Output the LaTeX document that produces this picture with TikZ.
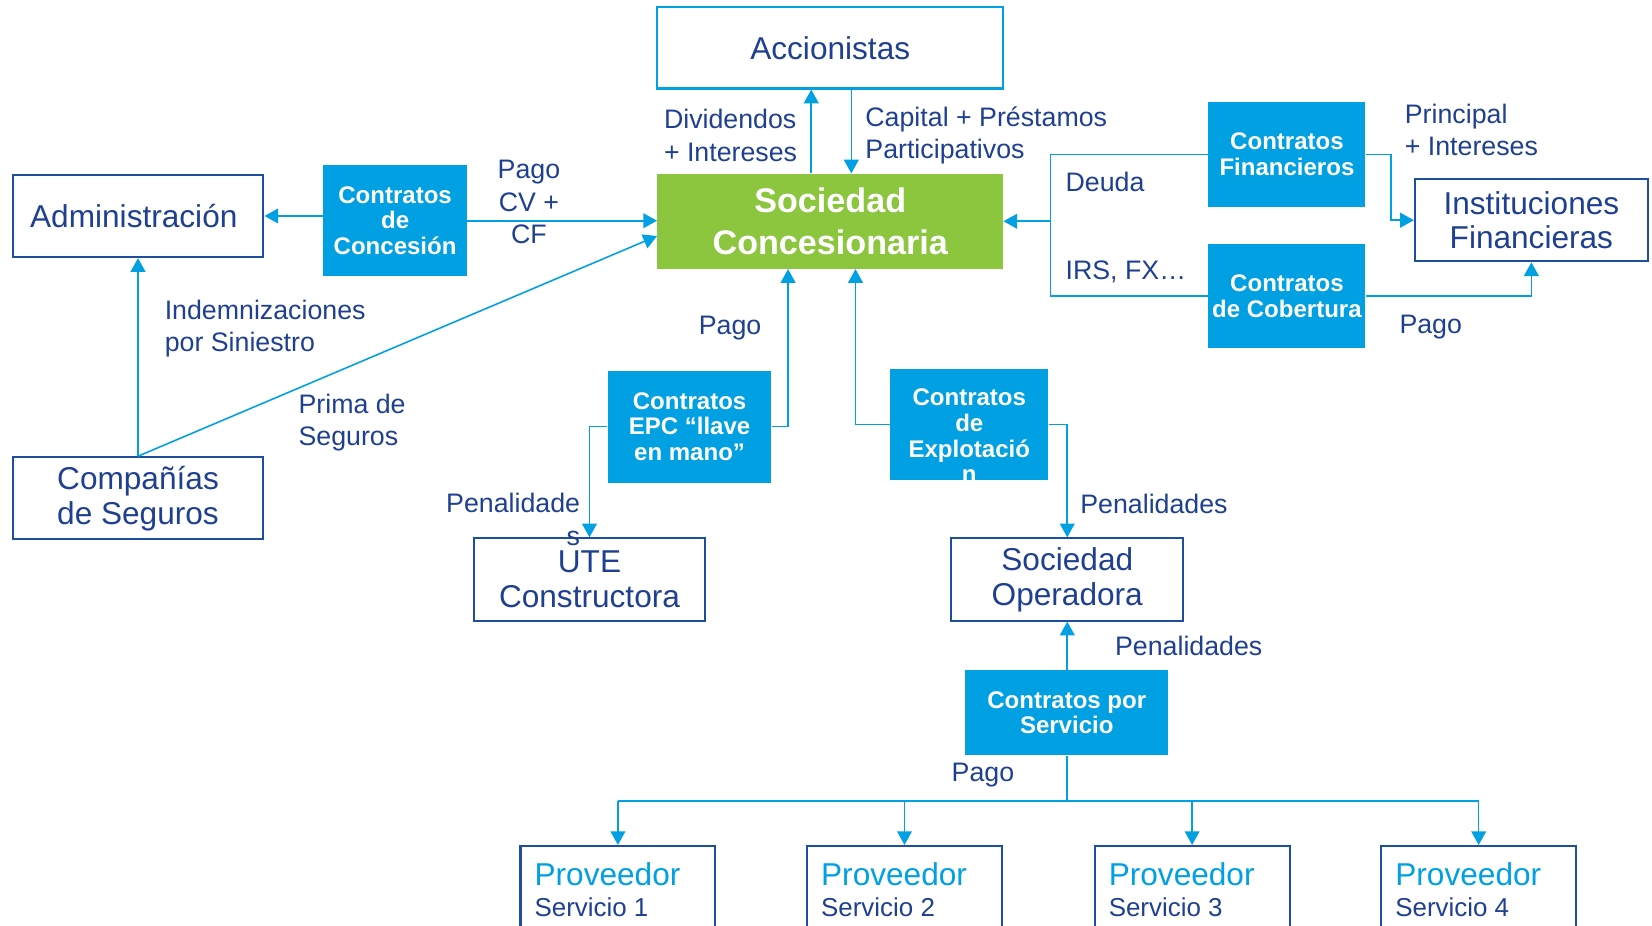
\documentclass[tikz,border=0pt]{standalone}
\usepackage{fontspec}
\setmainfont{Liberation Sans}
\usetikzlibrary{arrows.meta}

\definecolor{cyanblue}{RGB}{0,160,227}
\definecolor{boxblue}{RGB}{30,78,158}
\definecolor{textblue}{RGB}{31,64,145}
\definecolor{socgreen}{RGB}{139,198,62}

\begin{document}
\begin{tikzpicture}[
    x=0.5pt, y=-0.5pt,
    box/.style={rectangle, draw=boxblue, line width=1pt, text=textblue, align=center, inner sep=0pt, font=\fontsize{15}{16.5}\selectfont},
    contracttxt/.style={text=white, align=center, inner sep=0pt, font=\fontsize{11.4}{12.3}\selectfont\bfseries},
    contract/.style={contracttxt, rectangle, fill=cyanblue},
    lbl/.style={text=textblue, align=left, inner sep=0pt, font=\fontsize{12.7}{15.4}\selectfont},
    provbox/.style={rectangle, draw=boxblue, line width=1pt, anchor=north west, minimum width=92.5pt, minimum height=60pt},
    provtxt/.style={anchor=north west, align=left, inner sep=0pt, text=textblue, font=\fontsize{15}{15}\selectfont},
    arrow/.style={-{Triangle[length=6.5pt, width=7pt]}, draw=cyanblue, line width=0.75pt},
    link/.style={draw=cyanblue, line width=0.75pt},
]
\useasboundingbox (0,0) rectangle (1568,878);
\clip (0,0) rectangle (1568,878);

%% NODES
    % centre
    \node[rectangle, fill=socgreen, text=white, align=center, inner sep=0pt, minimum width=164pt, minimum height=45pt, font=\fontsize{16.2}{20}\selectfont\bfseries] (soc) at (788,210) {Sociedad\\Concesionaria};
    \node[box, draw=cyanblue, minimum width=164pt, minimum height=38.5pt] (acc) at (788,45.5) {Accionistas};

    % left side
    \node[box, minimum width=119pt, minimum height=39pt] (adm) at (131,205) {Administración\hspace*{4pt}};
    \node[box, minimum width=119pt, minimum height=39pt] (cia) at (131,473) {Compañías\\de Seguros};
    \node[contract, minimum width=68pt, minimum height=52.5pt] (ccon) at (375,209.5) {Contratos\\de\\Concesión};

    % right side
    \node[contract, minimum width=74.5pt, minimum height=49.5pt] (cfin) at (1221.5,146.5) {Contratos\\Financieros};
    \node[contract, minimum width=74.5pt, minimum height=49pt] (ccob) at (1221.5,281) {Contratos\\de Cobertura};
    \node[box, minimum width=110.5pt, minimum height=39pt] (inst) at (1453.5,209) {Instituciones\\Financieras};

    % construction and operation
    \node[contract, minimum width=77.5pt, minimum height=53pt] (cepc) at (654.5,405) {Contratos\\EPC “llave\\en mano”};
    \node[contract, minimum width=75pt, minimum height=53pt] (cexp) at (920,403) {};
    \node[contracttxt] (cexptxt) at ([yshift=-5.25pt]cexp.center) {Contratos\\de\\Explotació\\n};
    \node[box, minimum width=109.5pt, minimum height=39pt] (ute) at (559.5,550) {UTE\\Constructora};
    \node[box, minimum width=110pt, minimum height=39pt] (sop) at (1013,550) {Sociedad\\Operadora};

    % services
    \node[contract, minimum width=96.5pt, minimum height=40.5pt] (cser) at (1012.5,676.5) {Contratos por\\Servicio};
    \foreach \i/\x in {1/493, 2/765, 3/1038, 4/1310} {
        \node[provbox] (prov\i) at (\x,802) {};
        \node[provtxt] (provtxt\i) at ([xshift=7pt, yshift=-8pt]prov\i.north west) {\textcolor{cyanblue}{Proveedor}\\{\fontsize{12.3}{15}\selectfont Servicio \i}};
    }

    % labels
    \node[lbl, anchor=east] (lbldiv) at (757,128.5) {Dividendos\\+ Intereses};
    \node[lbl, anchor=west] (lblcap) at (821,128.5) {Capital + Préstamos\\Participativos};
    \node[lbl, align=center] (lblpagocv) at (502,192) {Pago\\CV +\\CF};
    \node[lbl, anchor=west] (lblindem) at (156,312) {Indemnizaciones\\por Siniestro};
    \node[lbl, anchor=west] (lblprima) at (283,401) {Prima de\\Seguros};
    \node[lbl] (lblpagoepc) at (693,311) {Pago};
    \node[lbl, align=right, anchor=east] (lblpenute) at (551,493) {Penalidade\\s};
    \node[lbl, anchor=west] (lblpensop) at (1025,478) {Penalidades};
    \node[lbl, anchor=west] (lbldeuda) at (1011,173) {Deuda};
    \node[lbl, anchor=west] (lblirs) at (1011,258) {IRS, FX…};
    \node[lbl, anchor=west] (lblprinc) at (1333,123.5) {Principal\\+ Intereses};
    \node[lbl] (lblpagoinst) at (1358,310) {Pago};
    \node[lbl, anchor=west] (lblpenser) at (1058,613) {Penalidades};
    \node[lbl] (lblpagoprov) at (933,736) {Pago};

    \coordinate (deuda) at (997,210);
    \coordinate (bus) at (1012.5,760);

%% CONNECTIONS
    % shareholders
    \draw[arrow] ([xshift=-9pt]soc.north) -- ([xshift=-9pt]acc.south);
    \draw[arrow] ([xshift=10pt]acc.south) -- ([xshift=10pt]soc.north);

    % concession
    \draw[arrow] (adm.east -| ccon.west) -- (adm.east);
    \draw[arrow] (ccon.east) -- (ccon.east -| soc.west);

    % insurance
    \draw[arrow] (cia.north) -- (adm.south);
    \draw[arrow] (cia.north) -- ([yshift=-7pt]soc.west);

    % EPC and operation
    \draw[arrow] (cepc.east) -| ([xshift=-20pt]soc.south);
    \draw[arrow] (cepc.west) -| (ute.north);
    \draw[arrow] (cexp.west) -| ([xshift=12pt]soc.south);
    \draw[arrow] (cexp.east) -| (sop.north);

    % financing
    \draw[link] (cfin.west) -| (deuda) |- (ccob.west);
    \draw[arrow] (deuda) -- (soc.east);
    \draw[arrow] (cfin.east) -- ++(12pt,0) |- (inst.west);
    \draw[arrow] (ccob.east) -| (inst.south);

    % services
    \draw[arrow] (sop.south |- cser.north) -- (sop.south);
    \draw[link] (cser.south) -- (bus);
    \draw[link] (prov1.north |- bus) -- (prov4.north |- bus);
    \foreach \i in {1,...,4}
        \draw[arrow] (prov\i.north |- bus) -- (prov\i.north);

\end{tikzpicture}
\end{document}
